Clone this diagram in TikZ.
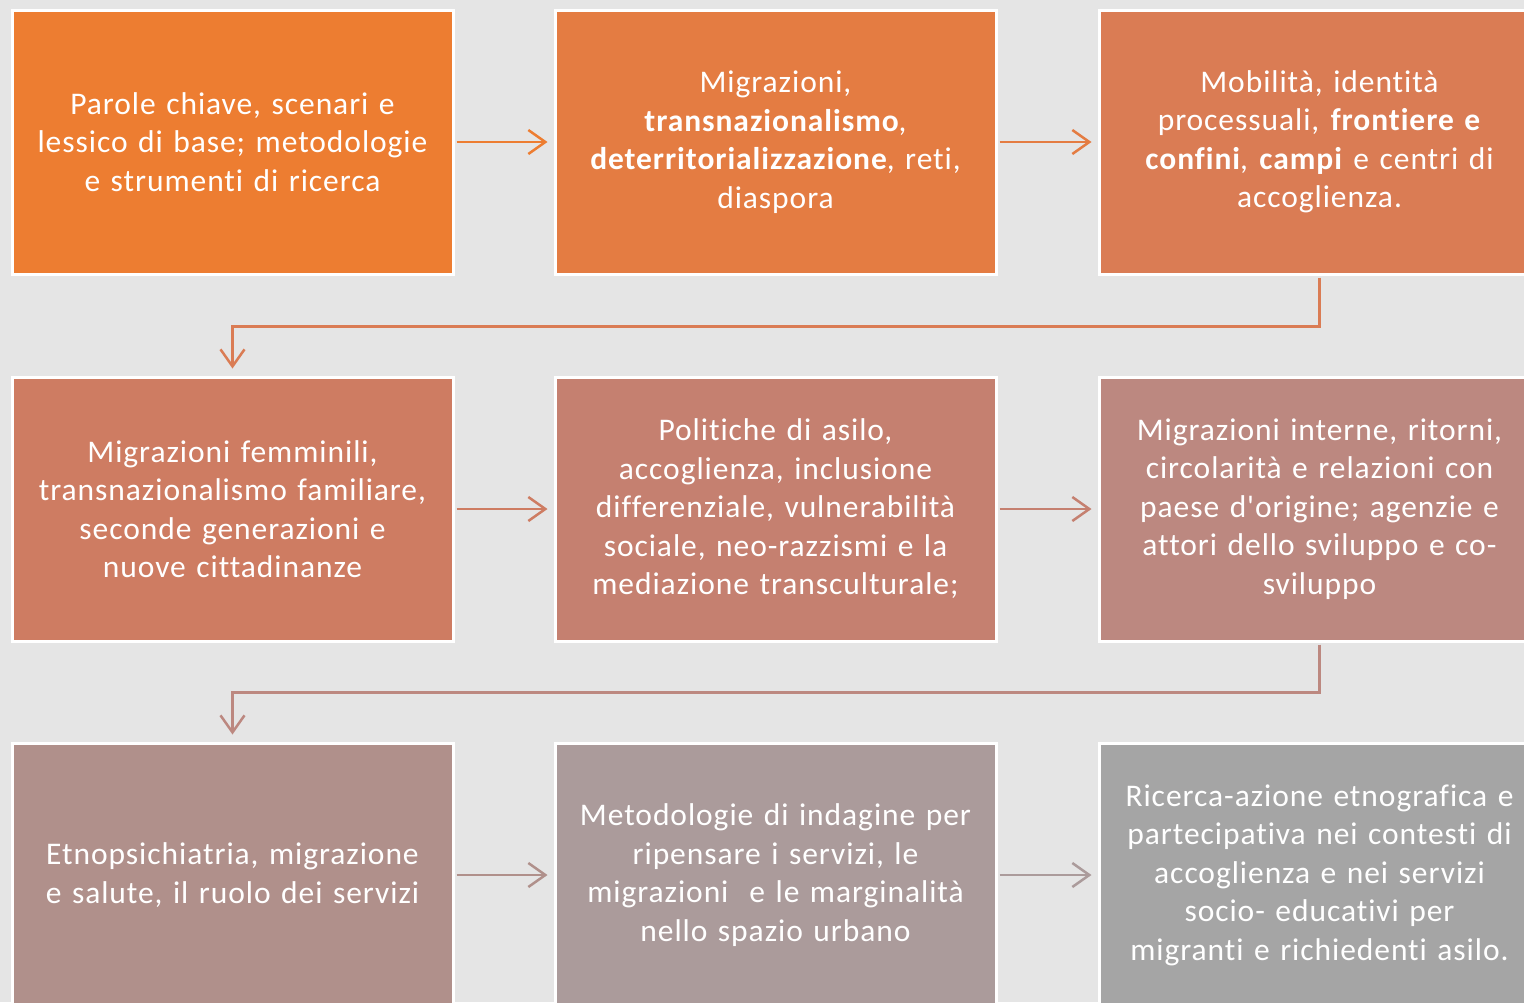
\documentclass[tikz,border=0pt]{standalone}
\usepackage{fontspec}
\setmainfont{Carlito}[Ligatures={TeXOff,NoCommon},LetterSpace=3]
\usetikzlibrary{arrows.meta}
\definecolor{bg}{RGB}{229,229,229}
\definecolor{cA}{RGB}{237,125,49}
\definecolor{cB}{RGB}{228,124,66}
\definecolor{cC}{RGB}{218,124,84}
\definecolor{cD}{RGB}{206,124,98}
\definecolor{cE}{RGB}{197,128,112}
\definecolor{cF}{RGB}{188,136,128}
\definecolor{cG}{RGB}{176,144,139}
\definecolor{cH}{RGB}{171,155,155}
\definecolor{cI}{RGB}{165,165,165}
\tikzset{
  box/.style={rectangle, draw=white, line width=3pt, minimum width=441pt, minimum height=264pt,
    text width=438pt, align=center, text=white, inner sep=0pt,
    font=\fontsize{31.5}{38.5}\selectfont},
  arr/.style={line width=2.5pt, -{Straight Barb[length=17pt,width=24pt]}},
  link/.style={line width=2.5pt, -{Straight Barb[length=17pt,width=24pt]}}
}
\begin{document}
\begin{tikzpicture}[x=1pt,y=-1pt]
\useasboundingbox (0,0) rectangle (1524,1002);
\clip (0,0) rectangle (1524,1002);
\fill[bg] (0,0) rectangle (1524,1002);
\node[box, fill=cA] (b1) at (232.5,142) {Parole chiave, scenari e\\lessico di base; metodologie\\e strumenti di ricerca};
\node[box, fill=cB] (b2) at (775.5,142) {Migrazioni,\\\textbf{transnazionalismo},\\\textbf{deterritorializzazione}, reti,\\diaspora};
\node[box, fill=cC] (b3) at (1319.5,142) {Mobilità, identità\\processuali, \textbf{frontiere e}\\\textbf{confini}, \textbf{campi} e centri di\\accoglienza.};
\node[box, fill=cD] (b4) at (232.5,509) {Migrazioni femminili,\\transnazionalismo familiare,\\seconde generazioni e\\nuove cittadinanze};
\node[box, fill=cE] (b5) at (775.5,509) {Politiche di asilo,\\accoglienza, inclusione\\differenziale, vulnerabilità\\sociale, neo-razzismi e la\\mediazione transculturale;};
\node[box, fill=cF] (b6) at (1319.5,509) {Migrazioni interne, ritorni,\\circolarità e relazioni con\\paese d'origine; agenzie e\\attori dello sviluppo e co-\\sviluppo};
\node[box, fill=cG] (b7) at (232.5,875) {Etnopsichiatria, migrazione\\e salute, il ruolo dei servizi};
\node[box, fill=cH] (b8) at (775.5,875) {Metodologie di indagine per\\ripensare i servizi, le\\migrazioni\ \ e le marginalità\\nello spazio urbano};
\node[box, fill=cI] (b9) at (1319.5,875) {Ricerca-azione etnografica e\\partecipativa nei contesti di\\accoglienza e nei servizi\\socio- educativi per\\migranti e richiedenti asilo.};
\draw[arr, cA, shorten <=2pt, shorten >=6pt] (b1.east) -- (b2.west);
\draw[arr, cB, shorten <=2pt, shorten >=6pt] (b2.east) -- (b3.west);
\draw[link, cC, shorten <=2pt, shorten >=7pt] (b3.south) -- ++(0,51) -| (b4.north);
\draw[arr, cD, shorten <=2pt, shorten >=6pt] (b4.east) -- (b5.west);
\draw[arr, cE, shorten <=2pt, shorten >=6pt] (b5.east) -- (b6.west);
\draw[link, cF, shorten <=2pt, shorten >=7pt] (b6.south) -- ++(0,50) -| (b7.north);
\draw[arr, cG, shorten <=2pt, shorten >=6pt] (b7.east) -- (b8.west);
\draw[arr, cH, shorten <=2pt, shorten >=6pt] (b8.east) -- (b9.west);
\end{tikzpicture}
\end{document}
